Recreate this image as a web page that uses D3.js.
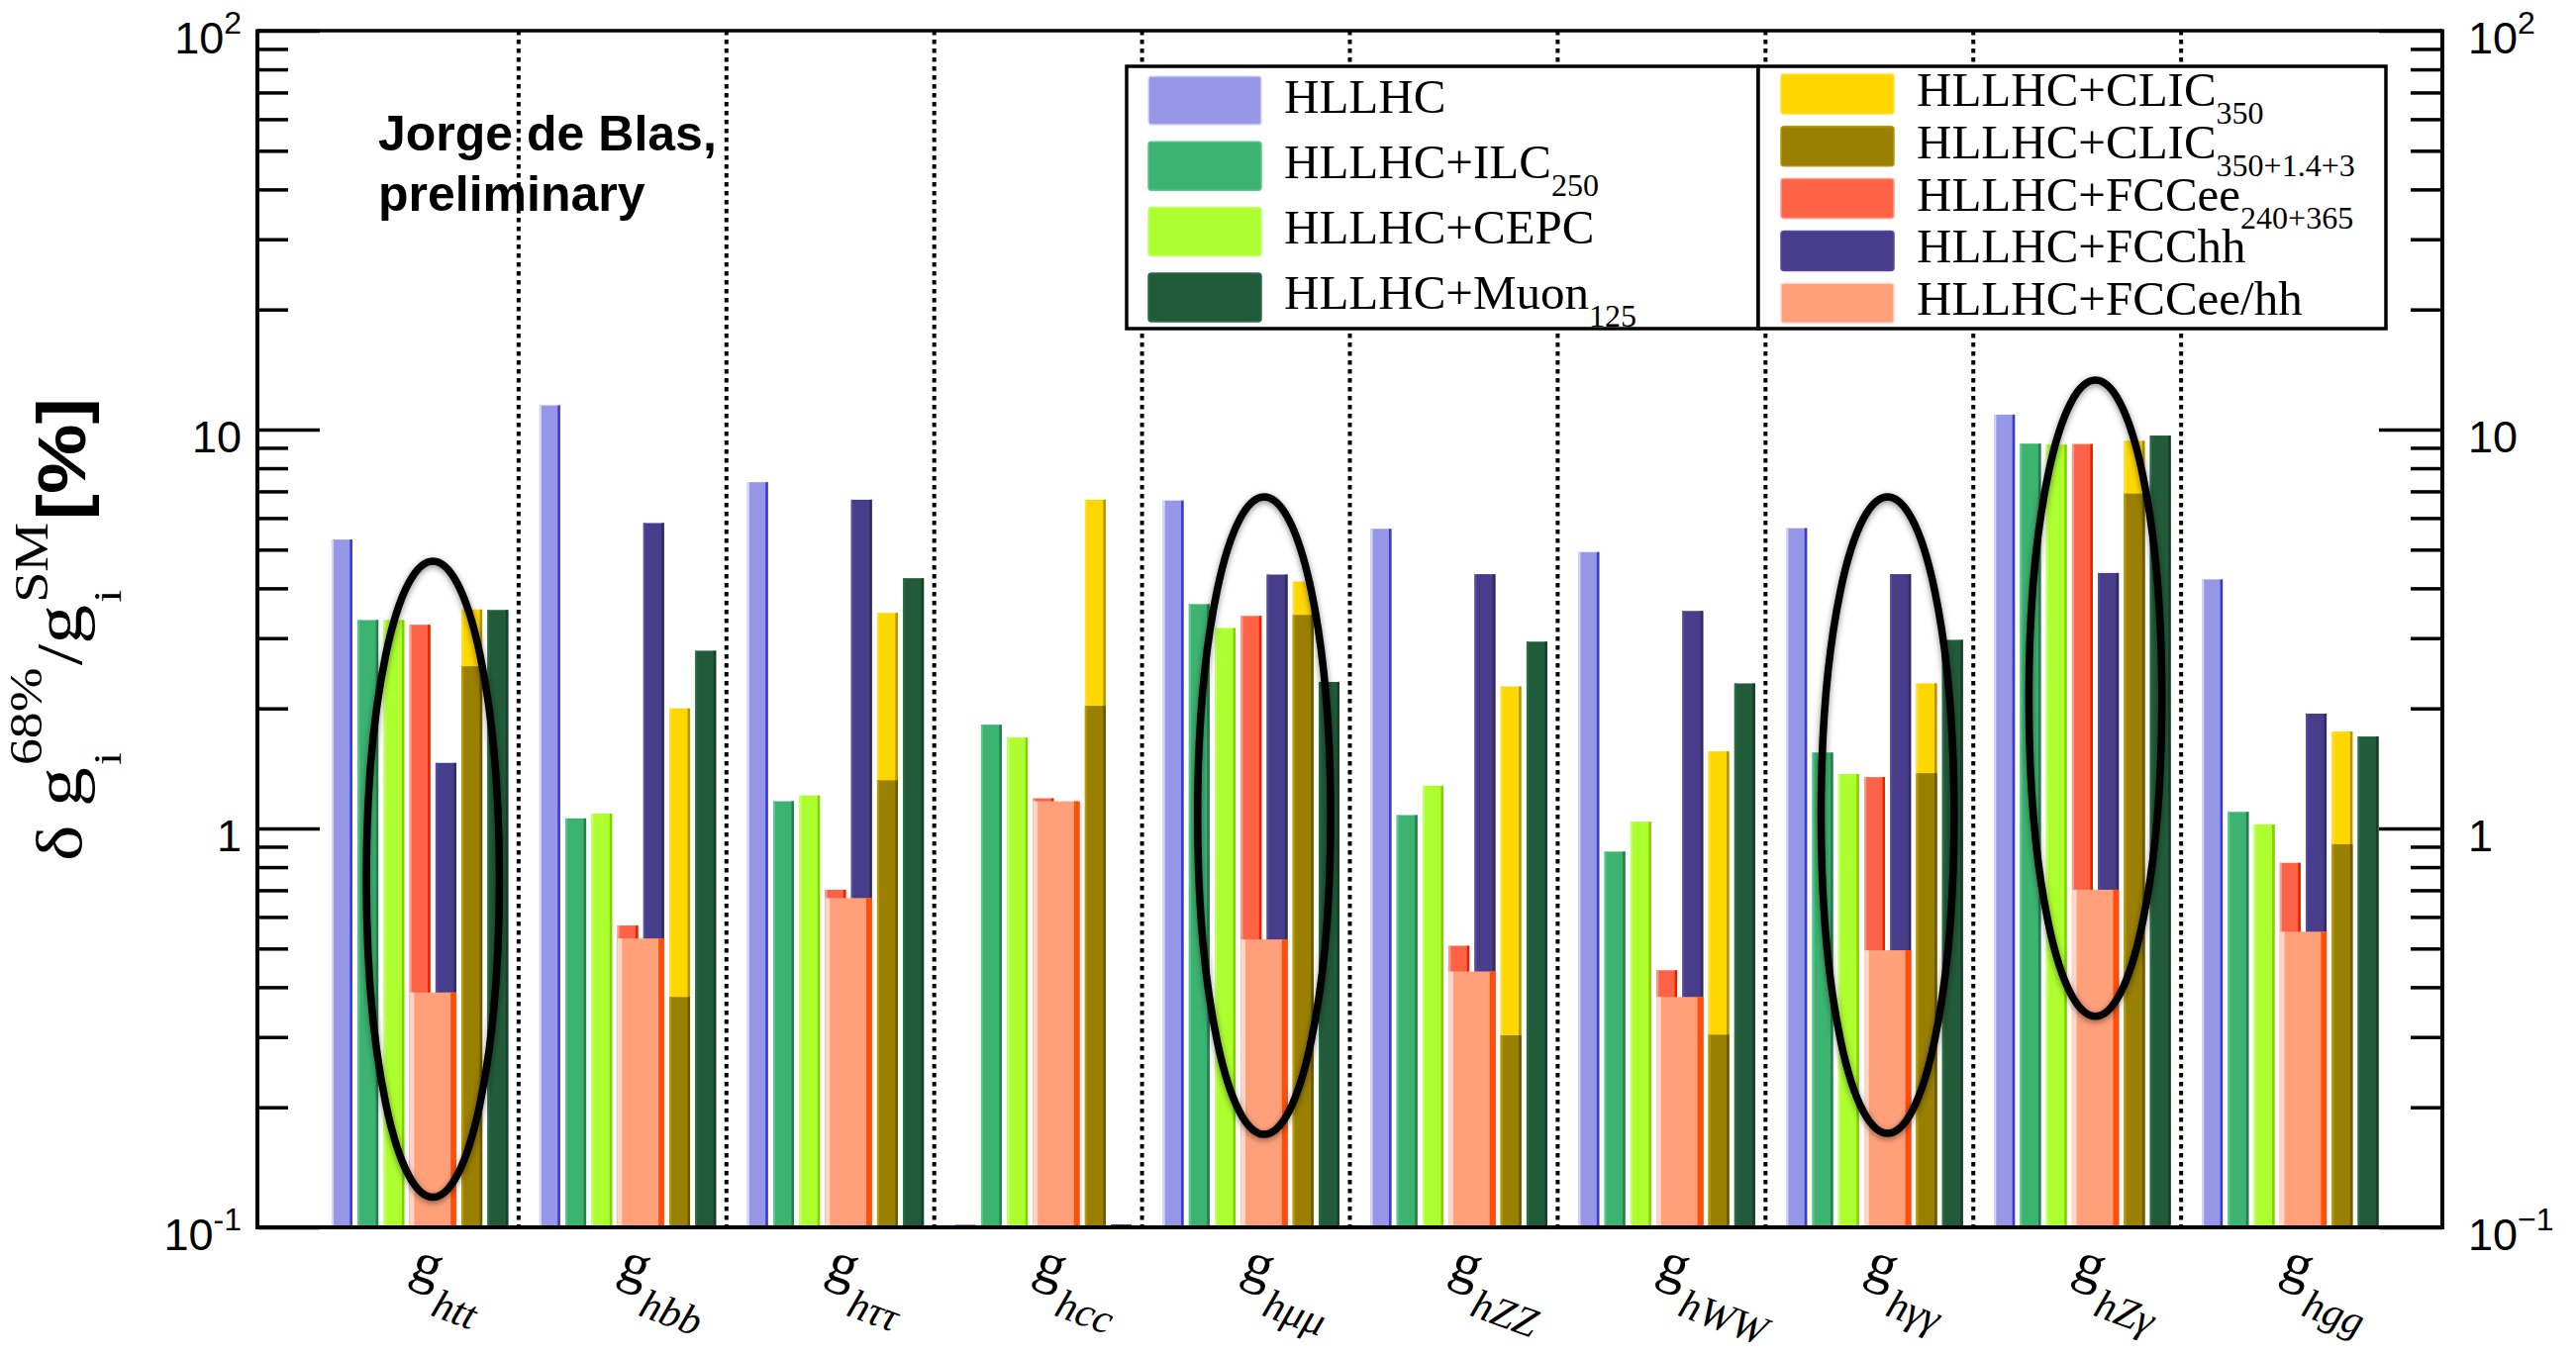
<!DOCTYPE html>
<html><head><meta charset="utf-8">
<script src="https://cdn.jsdelivr.net/npm/d3@7"></script>
<style>
html,body{margin:0;padding:0;background:#fff;}
svg{display:block;}
</style></head><body>
<svg id="c" width="2602" height="1370"></svg>
<script>
// ---------------- DATA ----------------
const categories = ["htt","hbb","hττ","hcc","hμμ","hZZ","hWW","hγγ","hZγ","hgg"];

const hllhc    = [5.3, 11.5, 7.38, 0,    6.64, 5.64, 4.93, 5.66, 10.9, 4.21];
const ilc250   = [3.33, 1.06, 1.17, 1.82, 3.65, 1.08, 0.875, 1.55, 9.22, 1.10];
const cepc     = [3.33, 1.09, 1.21, 1.69, 3.18, 1.28, 1.04, 1.37, 9.17, 1.024];
const fccee    = [3.24, 0.571, 0.702, 1.19, 3.41, 0.508, 0.441, 1.345, 9.2, 0.82];
const fcchh    = [1.46, 5.83, 6.67, 0,    4.33, 4.34, 3.51, 4.34, 4.37, 1.94];
const fcceehh  = [0.388, 0.530, 0.669, 1.17, 0.527, 0.438, 0.378, 0.495, 0.702, 0.551];
const clic350  = [3.54, 2.0, 3.47, 6.67, 4.16, 2.27, 1.56, 2.31, 9.37, 1.75];
const clicFull = [2.55, 0.378, 1.32, 2.03, 3.43, 0.303, 0.304, 1.376, 6.91, 0.913];
const muon125  = [3.53, 2.79, 4.24, 0,    2.33, 2.94, 2.31, 2.97, 9.66, 1.70];

// draw order
const seriesKeys   = ["hllhc","ilc250","cepc","fccee","fcchh","fcceehh","clic350","clicFull","muon125"];
const seriesLabels = ["HLLHC","HLLHC+ILC","HLLHC+CEPC","HLLHC+FCCee","HLLHC+FCChh","HLLHC+FCCee/hh","HLLHC+CLIC","HLLHC+CLIC","HLLHC+Muon"];
const seriesSubs   = ["","250","","240+365","","","350","350+1.4+3","125"];
const seriesColors = ["#9797e8","#3cb371","#adff2f","#ff6347","#483d8b","#ffa07a","#ffd700","#998000","#215b39"];

const legendLeftKeys  = ["hllhc","ilc250","cepc","muon125"];
const legendRightKeys = ["clic350","clicFull","fccee","fcchh","fcceehh"];

const yMajor    = [0.1, 1, 10, 100];
const yTickBase = ["10","1","10","10"];
const yTickExpL = ["-1","","","2"];
const yTickExpR = ["\u22121","","","2"];

const ellipseCats   = ["htt","hμμ","hγγ","hZγ"];
const ellipseTop    = [4.68, 6.78, 6.78, 13.3];
const ellipseBottom = [0.119, 0.171, 0.172, 0.338];

const annotation = ["Jorge de Blas,", "preliminary"];

// ---------------- LAYOUT ----------------
const SERIF = "'Liberation Serif','Times New Roman',serif";
const SANS  = "'Liberation Sans',Arial,Helvetica,sans-serif";
const L = 260, R = 2467, T = 31, B = 1240;
const svg = d3.select("#c");

const x = d3.scaleLinear().domain([-0.257, categories.length + 0.257]).range([L, R]);
const y = d3.scaleLog().domain([0.1, 100]).range([B, T]);

const valuesByKey = {hllhc, ilc250, cepc, fccee, fcchh, fcceehh, clic350, clicFull, muon125};
const slotOf = {hllhc:0, ilc250:1, cepc:2, fccee:3, fcchh:4, fcceehh:3, clic350:5, clicFull:5, muon125:6};
const spanOf = {fcceehh:2};
const series = seriesKeys.map((k,i)=>({key:k, values:valuesByKey[k], color:seriesColors[i],
  label:seriesLabels[i], sub:seriesSubs[i], slot:slotOf[k], span:spanOf[k]||1}));
const byKey = Object.fromEntries(series.map(s=>[s.key,s]));

const bright = c => { const h = d3.hsl(c); h.l = Math.min(0.97, h.l*1.2); return h.formatHex(); };
const dark   = c => { const h = d3.hsl(c); h.l = h.l*0.7; return h.formatHex(); };

const slotLeft = (i, slot) => i + 0.1 + 0.125*slot;
const BW = 0.1;

// ---------------- BARS ----------------
const gb = svg.append("g");
series.forEach(s=>{
  s.values.forEach((v,i)=>{
    const xl = x(slotLeft(i, s.slot));
    const xr = x(slotLeft(i, s.slot + s.span - 1) + BW);
    const w = xr - xl;
    if (!(v > 0.1)) {
      gb.append("rect").attr("x",xl).attr("y",B-3).attr("width",w).attr("height",3).attr("fill",s.color);
      return;
    }
    const yt = y(v), h = B - yt;
    gb.append("rect").attr("x",xl).attr("y",yt).attr("width",w).attr("height",h).attr("fill",s.color);
    gb.append("rect").attr("x",xl).attr("y",yt).attr("width",w*0.1).attr("height",h).attr("fill",bright(s.color));
    gb.append("rect").attr("x",xr - w*0.12).attr("y",yt).attr("width",w*0.12).attr("height",h).attr("fill",dark(s.color));
  });
});

// ---------------- SEPARATORS ----------------
for (let g = 1; g < categories.length; g++) {
  svg.append("line").attr("x1",x(g)).attr("x2",x(g)).attr("y1",T).attr("y2",B)
    .attr("stroke","#000").attr("stroke-width",4).attr("stroke-dasharray","4.5 4.5");
}

// ---------------- ELLIPSES ----------------
const defs = svg.append("defs");
const f = defs.append("filter").attr("id","sh").attr("x","-30%").attr("y","-10%").attr("width","160%").attr("height","120%");
f.append("feDropShadow").attr("dx",0).attr("dy",2).attr("stdDeviation",3).attr("flood-color","#000").attr("flood-opacity",0.45);
ellipseCats.forEach((c,j)=>{
  const i = categories.indexOf(c);
  const cx = x(slotLeft(i,3) + (0.125 + BW)/2);
  const rx = x(0.32) - x(0);
  const yt = y(ellipseTop[j]), yb = y(ellipseBottom[j]);
  svg.append("ellipse").attr("cx",cx).attr("cy",(yt+yb)/2).attr("rx",rx).attr("ry",(yb-yt)/2)
    .attr("fill","none").attr("stroke","#000").attr("stroke-width",7.5).attr("filter","url(#sh)");
});

// ---------------- AXES / FRAME ----------------
const minor = [];
[0.1,1,10].forEach(d=>{ for(let m=2;m<=9;m++) minor.push(m*d); });

function ticks(axisGen, xpos, vals, size){
  const g = svg.append("g").attr("transform",`translate(${xpos},0)`)
    .call(axisGen(y).tickValues(vals).tickSize(size).tickSizeOuter(0).tickFormat(""));
  g.select(".domain").remove();
  g.selectAll("line").attr("stroke","#000").attr("stroke-width",3.5);
}
ticks(d3.axisRight, L, yMajor, 63);
ticks(d3.axisRight, L, minor, 31);
ticks(d3.axisLeft, R, yMajor, 64);
ticks(d3.axisLeft, R, minor, 32);

svg.append("line").attr("x1",L).attr("x2",R).attr("y1",T).attr("y2",T).attr("stroke","#000").attr("stroke-width",3.5);
svg.append("line").attr("x1",L).attr("x2",R).attr("y1",B).attr("y2",B).attr("stroke","#000").attr("stroke-width",4);
svg.append("line").attr("x1",L).attr("x2",L).attr("y1",T-1.5).attr("y2",B+2).attr("stroke","#000").attr("stroke-width",4);
svg.append("line").attr("x1",R).attr("x2",R).attr("y1",T-1.5).attr("y2",B+2).attr("stroke","#000").attr("stroke-width",4);

// tick labels
yMajor.forEach((v,i)=>{
  const tl = svg.append("text").attr("x",244).attr("y",y(v)+23).attr("text-anchor","end")
    .attr("font-family",SANS).attr("font-size",45).attr("fill","#000");
  tl.append("tspan").text(yTickBase[i]);
  if (yTickExpL[i]) tl.append("tspan").attr("dy",-20).attr("font-size",32).text(yTickExpL[i]);
  const tr = svg.append("text").attr("x",2493).attr("y",y(v)+23).attr("text-anchor","start")
    .attr("font-family",SANS).attr("font-size",45).attr("fill","#000");
  tr.append("tspan").text(yTickBase[i]);
  if (yTickExpR[i]) tr.append("tspan").attr("dy",-20).attr("font-size",32).text(yTickExpR[i]);
});

// y-axis title
(function(){
  const g = svg.append("g");
  const inner = g.append("g");
  let cx = 0;
  function put(t, fs, shift, opt){
    opt = opt||{};
    const el = inner.append("text").attr("x",cx).attr("y",-shift).attr("font-size",fs)
      .attr("font-family",opt.fam||SERIF).attr("font-weight",opt.fw||"normal").attr("font-style",opt.fst||"normal").text(t);
    return el.node().getComputedTextLength();
  }
  cx += put("δ", 66, 0) + 16;
  cx += put("g", 68, 0) + 2;
  const w1 = put("68%", 46, 40);
  const w2 = put("i", 40, -40);
  cx += Math.max(w1,w2) + 2;
  cx += put("/", 66, 0);
  cx += put("g", 68, 0) + 2;
  const w3 = put("SM", 48, 34);
  const w4 = put("i", 40, -40);
  cx += Math.max(w3,w4) + 2;
  cx += put("[%]", 68, -4, {fam:SANS, fw:"bold"});
  const target = 468;
  const k = target/cx;
  g.attr("transform",`translate(82,636) rotate(-90) scale(${k},1) translate(${-cx/2},0)`);
})();

// x category labels
categories.forEach((c,i)=>{
  const g = svg.append("g").attr("transform",`translate(${x(i+0.47)},1290) rotate(20)`);
  const t = g.append("text").attr("x",0).attr("y",0).attr("font-family",SERIF).attr("font-size",58).text("g");
  const gw = t.node().getComputedTextLength();
  g.append("text").attr("x",gw+4).attr("y",29).attr("font-family",SERIF).attr("font-style","italic")
    .attr("font-size",42).text(c);
});

// annotation
annotation.forEach((t,i)=>{
  svg.append("text").attr("x",382).attr("y",152 + i*61).attr("font-family",SANS).attr("font-weight","bold")
    .attr("font-size",50).text(t);
});

// ---------------- LEGEND ----------------
function legendBox(x0, x1, keys, swX, rowTop, pitch, swH){
  svg.append("rect").attr("x",x0).attr("y",67).attr("width",x1-x0).attr("height",332-67)
    .attr("fill","#fff").attr("stroke","#000").attr("stroke-width",3.5);
  keys.forEach((k,j)=>{
    const s = byKey[k];
    const top = rowTop + j*pitch;
    svg.append("rect").attr("x",swX).attr("y",top).attr("width",114).attr("height",swH).attr("rx",3)
      .attr("fill",s.color).attr("stroke",bright(s.color)).attr("stroke-width",1.5);
    const t = svg.append("text").attr("x",swX+137).attr("y",top+swH/2+12).attr("font-family",SERIF).attr("font-size",49);
    t.append("tspan").text(s.label);
    if (s.sub) t.append("tspan").attr("dy",18).attr("font-size",32).text(s.sub);
  });
}
legendBox(1138, 1776, legendLeftKeys, 1160, 77, 66.3, 49);
legendBox(1776, 2410, legendRightKeys, 1799, 75, 52.8, 40);
</script>
</body></html>
